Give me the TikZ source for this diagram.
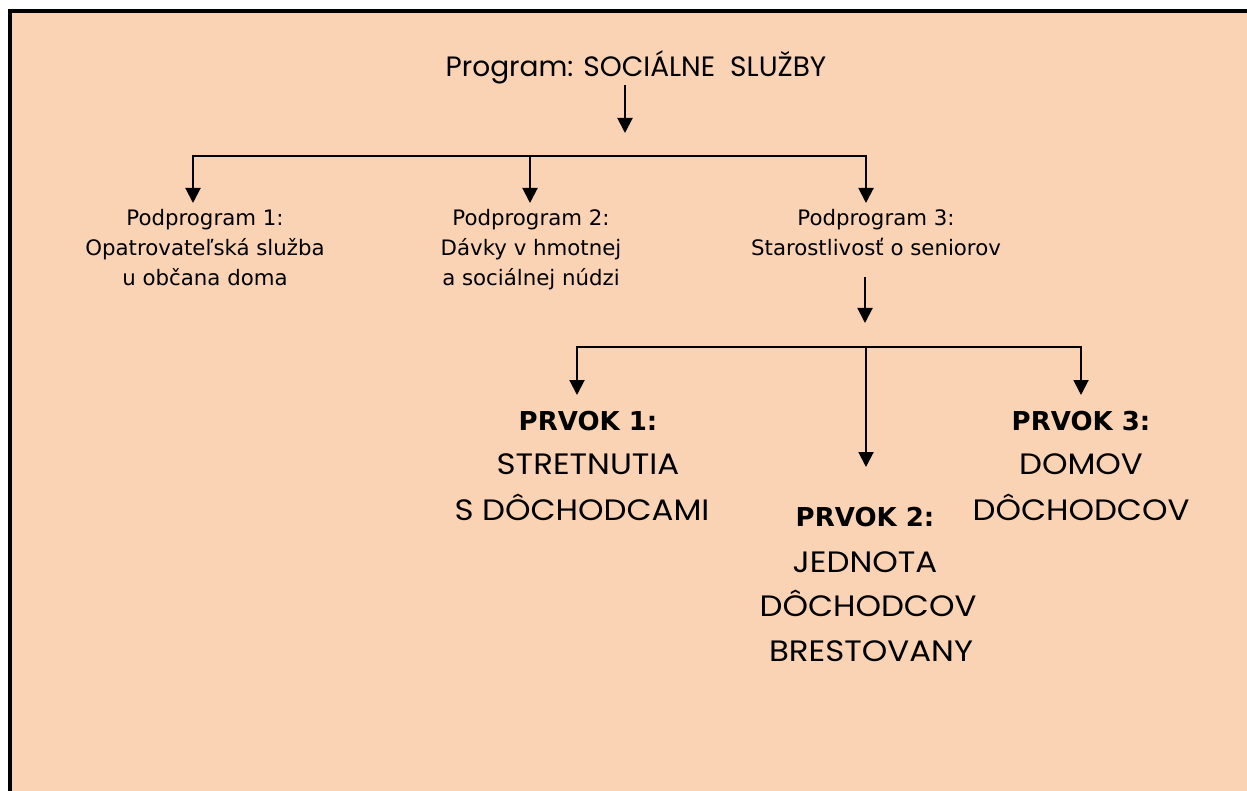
\documentclass[tikz,border=0pt]{standalone}
\usepackage{fontspec}
\setmainfont{DejaVu Sans}
\newfontfamily\gothic{Poppins}
\newfontfamily\gothicw[FakeStretch=1.1]{Poppins}
\usetikzlibrary{arrows.meta}
\definecolor{peach}{RGB}{250,211,180}
\begin{document}
\begin{tikzpicture}[x=1pt,y=-1pt,
  conn/.style={line width=2pt},
  arr/.style={conn,-{Triangle[width=15pt,length=15pt]}},
  sub/.style={font=\fontsize{21.3}{30}\selectfont, anchor=base, inner sep=0pt},
  head/.style={font=\fontsize{26}{30}\selectfont\bfseries, anchor=base, inner sep=0pt},
  item/.style={font=\gothicw\fontsize{29.5}{30}\selectfont, anchor=base, inner sep=0pt},
  ttl/.style={font=\gothic\fontsize{28}{30}\selectfont, anchor=base, inner sep=0pt},
]
% background and frame
\useasboundingbox (0,0) rectangle (1247,791);
\fill[white] (0,0) rectangle (1247,791);
\fill[peach] (12,13) rectangle (1247,791);
\fill[black] (8,9) rectangle (1247,13);
\fill[black] (8,9) rectangle (12,791);

% title
\node[ttl] (title) at (636,77) {Program: SOCIÁLNE\ \ SLUŽBY};
\coordinate (t1) at (625,133);
\draw[arr] (title.south -| t1) -- (t1);

% first bus
\coordinate (b1l) at (193,156);
\coordinate (b1m) at (530,156);
\coordinate (b1r) at (866,156);
\coordinate (tp1) at (193,203);
\coordinate (tp2) at (530,203);
\coordinate (tp3) at (866,203);
\draw[arr] (b1r) -- (b1l) -- (tp1);
\draw[arr] (b1l) -- (b1r) -- (tp3);
\draw[arr] (b1m) -- (tp2);

% sub-programs
\node[sub] (p1a) at (205,226) {Podprogram 1:};
\node[sub] (p1b) at (205,256) {Opatrovateľská služba};
\node[sub] (p1c) at (205,286) {u občana doma};
\node[sub] (p2a) at (531,226) {Podprogram 2:};
\node[sub] (p2b) at (531,256) {Dávky v hmotnej};
\node[sub] (p2c) at (531,286) {a sociálnej núdzi};
\node[sub] (p3a) at (876,226) {Podprogram 3:};
\node[sub] (p3b) at (876,256) {Starostlivosť o seniorov};

% second bus
\coordinate (t4) at (865,323);
\draw[arr,shorten <=20pt] (p3b.south -| t4) -- (t4);
\coordinate (b2l) at (577,347);
\coordinate (b2m) at (866,347);
\coordinate (b2r) at (1081,347);
\coordinate (tq1) at (577,395);
\coordinate (tq2) at (866,467);
\coordinate (tq3) at (1081,395);
\draw[arr] (b2r) -- (b2l) -- (tq1);
\draw[arr] (b2l) -- (b2r) -- (tq3);
\draw[arr] (b2m) -- (tq2);

% elements
\node[head] (e1a) at (588,430) {PRVOK 1:};
\node[item] (e1b) at (588,474) {STRETNUTIA};
\node[item] (e1c) at (582,520) {S DÔCHODCAMI};
\node[head] (e2a) at (865,526) {PRVOK 2:};
\node[item] (e2b) at (865,572) {JEDNOTA};
\node[item] (e2c) at (868,616) {DÔCHODCOV};
\node[item] (e2d) at (871,661) {BRESTOVANY};
\node[head] (e3a) at (1081,430) {PRVOK 3:};
\node[item] (e3b) at (1081,474) {DOMOV};
\node[item] (e3c) at (1081,520) {DÔCHODCOV};
\end{tikzpicture}
\end{document}
